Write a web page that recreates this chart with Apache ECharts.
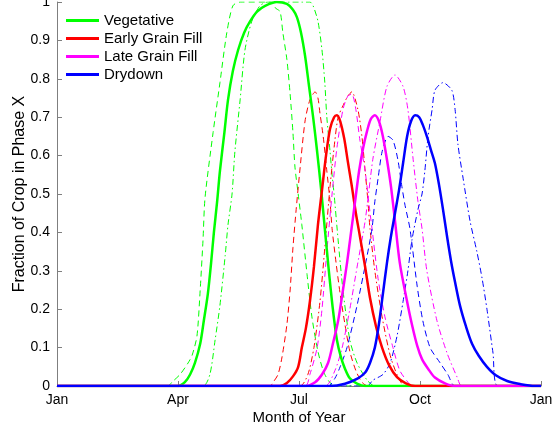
<!DOCTYPE html>
<html>
<head>
<meta charset="utf-8">
<script src="https://cdn.jsdelivr.net/npm/echarts@6/dist/echarts.min.js"></script>
<style>
html,body{margin:0;padding:0;background:#fff;}
#chart{width:555px;height:429px;}
</style>
</head>
<body>
<div id="chart"></div>
<script>
// x in months since Jan 1 (0..12), y = fraction of crop in phase
var monthTicks = ['Jan','Apr','Jul','Oct','Jan'];
var phaseNames = ['Vegetative','Early Grain Fill','Late Grain Fill','Drydown'];

var vegMean = [[0,0],[3.00,0],[3.17,0.01],[3.30,0.03],[3.42,0.06],[3.55,0.11],[3.64,0.17],[3.74,0.24],[3.82,0.32],[3.89,0.40],[3.97,0.48],[4.04,0.56],[4.15,0.66],[4.24,0.745],[4.36,0.82],[4.49,0.875],[4.64,0.92],[4.79,0.95],[4.96,0.975],[5.16,0.99],[5.45,1.0],[5.70,0.995],[5.85,0.98],[5.95,0.96],[6.05,0.92],[6.15,0.86],[6.25,0.78],[6.35,0.70],[6.45,0.61],[6.55,0.51],[6.64,0.41],[6.74,0.30],[6.84,0.20],[6.94,0.12],[7.04,0.075],[7.14,0.045],[7.26,0.02],[7.44,0.006],[7.64,0],[12,0]];
var vegDash = [[0,0],[2.75,0],[2.85,0.01],[3.05,0.03],[3.25,0.06],[3.35,0.08],[3.47,0.13],[3.55,0.25],[3.62,0.38],[3.67,0.49],[3.87,0.66],[4.04,0.79],[4.21,0.92],[4.36,0.99],[4.54,1.0],[5.36,1.0],[5.41,0.985],[5.53,0.975],[5.60,0.92],[5.70,0.85],[5.78,0.76],[5.85,0.66],[5.90,0.57],[5.98,0.50],[6.07,0.42],[6.20,0.29],[6.32,0.18],[6.47,0.09],[6.64,0.03],[6.89,0],[12,0]];
var vegDashDot = [[0,0],[3.62,0],[3.79,0.03],[3.92,0.12],[4.04,0.21],[4.17,0.34],[4.24,0.42],[4.34,0.50],[4.41,0.61],[4.54,0.745],[4.66,0.875],[4.83,0.95],[5.03,0.99],[5.23,1.0],[6.27,1.0],[6.35,0.99],[6.47,0.95],[6.57,0.875],[6.64,0.79],[6.69,0.70],[6.77,0.61],[6.82,0.55],[6.87,0.50],[6.97,0.38],[7.09,0.25],[7.26,0.12],[7.44,0.06],[7.69,0.015],[7.88,0],[12,0]];

var egfMean = [[0,0],[5.53,0],[5.70,0.008],[5.85,0.025],[5.98,0.05],[6.07,0.10],[6.17,0.15],[6.27,0.22],[6.37,0.31],[6.47,0.42],[6.57,0.51],[6.67,0.60],[6.77,0.67],[6.87,0.70],[6.94,0.705],[7.02,0.69],[7.12,0.645],[7.21,0.585],[7.31,0.52],[7.41,0.45],[7.51,0.39],[7.64,0.31],[7.76,0.23],[7.91,0.155],[8.06,0.10],[8.23,0.055],[8.43,0.023],[8.65,0.007],[8.88,0],[12,0]];
var egfDash = [[0,0],[5.28,0],[5.36,0.01],[5.48,0.03],[5.58,0.076],[5.70,0.16],[5.78,0.25],[5.85,0.36],[5.93,0.46],[6.02,0.56],[6.15,0.69],[6.27,0.745],[6.40,0.766],[6.47,0.75],[6.52,0.71],[6.60,0.65],[6.69,0.56],[6.77,0.48],[6.82,0.41],[6.92,0.32],[7.02,0.24],[7.14,0.16],[7.26,0.09],[7.41,0.04],[7.56,0.01],[7.71,0],[12,0]];
var egfDashDot = [[0,0],[6.02,0],[6.22,0.03],[6.37,0.10],[6.52,0.22],[6.64,0.36],[6.77,0.52],[6.89,0.64],[6.97,0.70],[7.09,0.73],[7.21,0.755],[7.31,0.766],[7.46,0.72],[7.56,0.65],[7.64,0.56],[7.71,0.48],[7.76,0.41],[7.88,0.30],[8.06,0.18],[8.26,0.08],[8.45,0.025],[8.63,0],[12,0]];

var lgfMean = [[0,0],[6.15,0],[6.40,0.01],[6.57,0.03],[6.72,0.06],[6.84,0.11],[6.97,0.17],[7.09,0.25],[7.19,0.32],[7.29,0.40],[7.39,0.48],[7.49,0.56],[7.59,0.62],[7.69,0.665],[7.78,0.695],[7.88,0.705],[7.98,0.69],[8.08,0.65],[8.18,0.59],[8.28,0.52],[8.38,0.43],[8.50,0.32],[8.68,0.22],[8.80,0.16],[8.93,0.105],[9.05,0.07],[9.20,0.045],[9.37,0.022],[9.62,0.007],[9.87,0],[12,0]];
var lgfDash = [[0,0],[6.15,0],[6.27,0.03],[6.45,0.10],[6.57,0.20],[6.69,0.35],[6.82,0.50],[6.94,0.62],[7.09,0.72],[7.21,0.755],[7.31,0.76],[7.41,0.72],[7.51,0.64],[7.64,0.56],[7.74,0.47],[7.81,0.41],[7.96,0.28],[8.13,0.18],[8.33,0.10],[8.50,0.04],[8.70,0.01],[8.80,0],[12,0]];
var lgfDashDot = [[0,0],[6.64,0],[6.89,0.04],[7.07,0.10],[7.26,0.20],[7.44,0.31],[7.64,0.43],[7.83,0.59],[8.01,0.69],[8.18,0.78],[8.38,0.81],[8.58,0.78],[8.70,0.72],[8.83,0.59],[8.95,0.48],[9.05,0.41],[9.17,0.30],[9.42,0.17],[9.67,0.086],[9.92,0.023],[10.04,0],[12,0]];

var ddMean = [[0,0],[6.77,0],[7.14,0.006],[7.46,0.02],[7.64,0.035],[7.76,0.06],[7.88,0.10],[7.98,0.16],[8.08,0.24],[8.18,0.32],[8.28,0.39],[8.38,0.45],[8.48,0.51],[8.58,0.58],[8.68,0.65],[8.78,0.69],[8.88,0.705],[8.98,0.70],[9.07,0.68],[9.17,0.65],[9.27,0.615],[9.37,0.58],[9.47,0.525],[9.57,0.46],[9.67,0.39],[9.77,0.325],[9.87,0.27],[9.99,0.21],[10.14,0.155],[10.29,0.11],[10.46,0.078],[10.66,0.05],[10.88,0.028],[11.16,0.013],[11.48,0.005],[11.85,0],[12,0]];
var ddDash = [[0,0],[6.72,0],[6.89,0.02],[7.02,0.05],[7.19,0.10],[7.44,0.21],[7.69,0.34],[7.81,0.41],[7.88,0.48],[7.96,0.54],[8.06,0.61],[8.21,0.65],[8.33,0.64],[8.45,0.59],[8.55,0.52],[8.63,0.47],[8.75,0.41],[8.93,0.26],[9.07,0.17],[9.25,0.10],[9.50,0.06],[9.69,0.03],[9.87,0],[12,0]];
var ddDashDot = [[0,0],[7.69,0],[7.83,0.015],[8.08,0.03],[8.26,0.06],[8.43,0.13],[8.58,0.22],[8.70,0.30],[8.80,0.38],[8.95,0.46],[9.05,0.50],[9.12,0.56],[9.20,0.65],[9.30,0.72],[9.37,0.77],[9.57,0.79],[9.79,0.77],[9.87,0.72],[9.94,0.63],[10.07,0.54],[10.24,0.43],[10.41,0.35],[10.54,0.28],[10.66,0.20],[10.81,0.086],[10.93,0],[12,0]];

var colors = ['#00ff00','#ff0000','#ff00ff','#0000ff'];
var groups = [
  [vegMean, vegDash, vegDashDot],
  [egfMean, egfDash, egfDashDot],
  [lgfMean, lgfDash, lgfDashDot],
  [ddMean, ddDash, ddDashDot]
];

var series = [];
groups.forEach(function(g, i){
  series.push({name: phaseNames[i] + ' (dash)', type:'line', data:g[1], showSymbol:false, symbol:'none', color:colors[i],
    smooth:0.25,
    lineStyle:{color:colors[i], width:1, type:[6,4]}, z:2, silent:true});
  series.push({name: phaseNames[i] + ' (dashdot)', type:'line', data:g[2], showSymbol:false, symbol:'none', color:colors[i],
    smooth:0.25,
    lineStyle:{color:colors[i], width:1, type:[6,3,1.5,3]}, z:2, silent:true});
});
groups.forEach(function(g, i){
  series.push({name: phaseNames[i], type:'line', data:g[0], showSymbol:false, symbol:'none', color:colors[i],
    smooth:0.3,
    lineStyle:{color:colors[i], width:2.5}, z:3, silent:true});
});

var chart = echarts.init(document.getElementById('chart'), null, {renderer:'canvas'});
chart.setOption({
  animation:false,
  backgroundColor:'#ffffff',
  textStyle:{fontFamily:'"Liberation Sans", Arial, Helvetica, sans-serif', color:'#000'},
  grid:{left:57, right:14, top:2, bottom:43, containLabel:false, outerBoundsMode:'none'},
  legend:{
    data:phaseNames, orient:'vertical', left:66, top:13, padding:0,
    itemWidth:33, itemHeight:3, itemGap:3, icon:'rect',
    textStyle:{fontSize:15, color:'#000'}
  },
  xAxis:{
    type:'value', min:0, max:12, interval:3,
    name:'Month of Year', nameLocation:'middle', nameGap:24, nameMoveOverlap:false,
    nameTextStyle:{fontSize:15, color:'#000'},
    axisLine:{show:true, onZero:false, lineStyle:{color:'#7f7f7f', width:1}},
    axisTick:{show:true, inside:true, length:5, lineStyle:{color:'#7f7f7f'}},
    axisLabel:{fontSize:14, color:'#000', margin:7, formatter:function(v){return monthTicks[Math.round(v/3)];}},
    splitLine:{show:false}
  },
  yAxis:{
    type:'value', min:0, max:1, interval:0.1,
    name:'Fraction of Crop in Phase X', nameLocation:'middle', nameGap:29, nameMoveOverlap:false,
    nameTextStyle:{fontSize:16, color:'#000'},
    axisLine:{show:true, lineStyle:{color:'#7f7f7f', width:1}},
    axisTick:{show:true, inside:true, length:5, lineStyle:{color:'#7f7f7f'}},
    axisLabel:{fontSize:14, color:'#000', margin:7},
    splitLine:{show:false}
  },
  series:series
});
</script>
</body>
</html>
